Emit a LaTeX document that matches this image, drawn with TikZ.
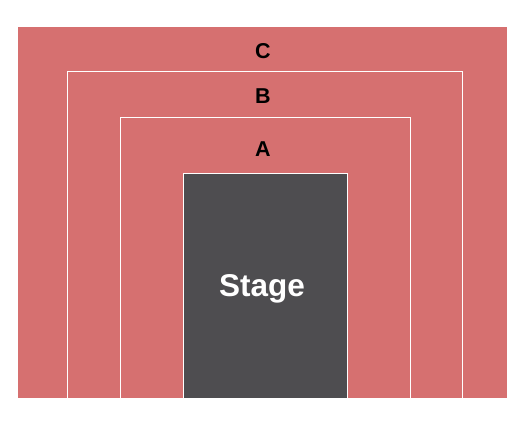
\documentclass[tikz,border=0pt]{standalone}
\usepackage{fontspec}
\setmainfont{Liberation Sans}
\usepackage{xcolor}
\definecolor{seatred}{HTML}{D67070}
\definecolor{stagegrey}{HTML}{4E4D50}
\begin{document}
\begin{tikzpicture}[x=1pt,y=1pt]
      \tikzstyle{every node}=[inner sep=0pt]
      \tikzstyle{section}=[font=\fontsize{21.5}{21.5}\selectfont\bfseries, anchor=base]
      \tikzstyle{divider}=[white, line width=1pt]
      \useasboundingbox (0,0) rectangle (525,425);

      % seating area
      \fill[seatred] (18,27) rectangle (507,398);
      \draw[divider] (67.5,27) -- (67.5,353) -- (462,353) -- (462,27);
      \draw[divider] (120.5,27) -- (120.5,307) -- (410,307) -- (410,27);

      % stage
      \filldraw[fill=stagegrey, draw=white, line width=0.8pt] (183,27) rectangle (347,252);

      \node[section] (c) at (263,366.5) {C};
      \node[section] (b) at (263,321)   {B};
      \node[section] (a) at (263,268.5) {A};
      \node[anchor=base, white, font=\fontsize{31.5}{31.5}\selectfont\bfseries] (stage) at (262,128) {Stage};
\end{tikzpicture}
\end{document}
